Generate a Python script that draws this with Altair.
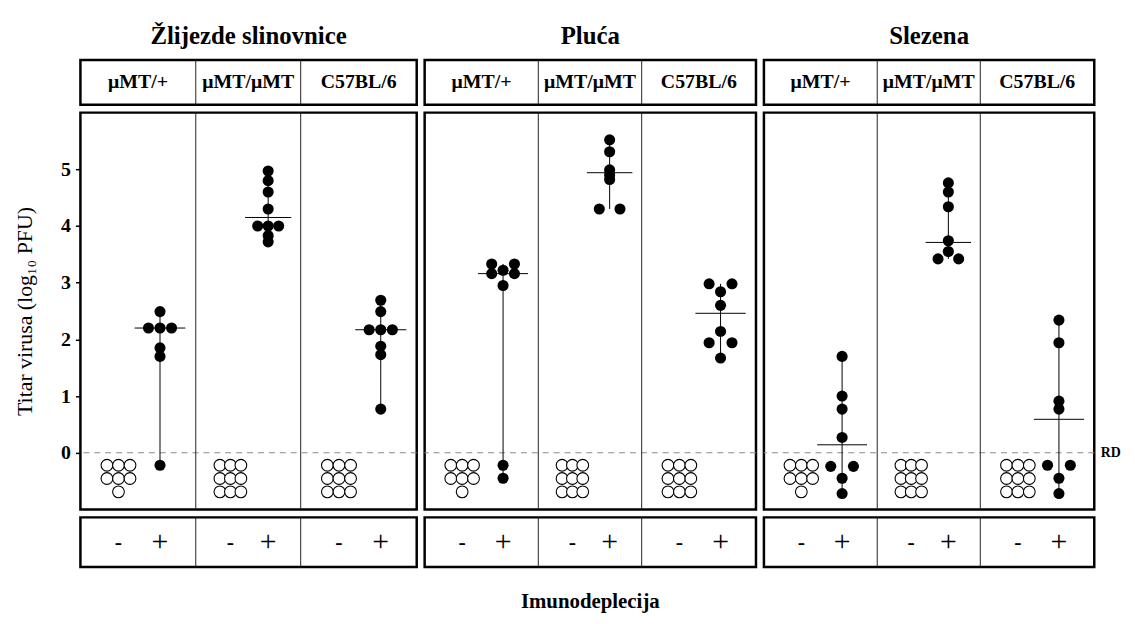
import altair as alt
import pandas as pd
from collections import Counter

# ---------------- data ----------------
panels = ["Žlijezde slinovnice", "Pluća", "Slezena"]
strains = ["μMT/+", "μMT/μMT", "C57BL/6"]
depletion_labels = ["-", "+"]
y_ticks = [0, 1, 2, 3, 4, 5]
rd_value = [0]

# filled circles: immunodepleted (+) mice, virus titre log10 PFU
salivary_mt_het = [2.49, 2.20, 2.20, 2.20, 1.85, 1.70, -0.22]
salivary_mt_mt = [4.97, 4.80, 4.60, 4.30, 4.00, 4.00, 4.00, 3.83, 3.72]
salivary_b6 = [2.69, 2.49, 2.17, 2.17, 2.17, 1.88, 1.73, 0.77]
lung_mt_het = [3.33, 3.33, 3.22, 3.16, 3.16, 2.95, -0.22, -0.45]
lung_mt_mt = [5.52, 5.31, 4.99, 4.90, 4.82, 4.30, 4.30]
lung_b6 = [2.98, 2.98, 2.84, 2.60, 2.14, 1.94, 1.94, 1.67]
spleen_mt_het = [1.70, 1.00, 0.77, 0.27, -0.24, -0.24, -0.45, -0.72]
spleen_mt_mt = [4.76, 4.60, 4.34, 3.74, 3.55, 3.42, 3.42]
spleen_b6 = [2.34, 1.94, 0.91, 0.77, -0.22, -0.22, -0.45, -0.72]

# horizontal bars (median) per strain
median_salivary = [2.20, 4.15, 2.17]
median_lung = [3.16, 4.94, 2.46]
median_spleen = [0.14, 3.71, 0.59]

# open circles: non-depleted (-) mice below the detection limit (RD)
below_rd_salivary = [7, 9, 9]
below_rd_lung = [7, 9, 9]
below_rd_spleen = [7, 9, 9]

filled_values = [
    [salivary_mt_het, salivary_mt_mt, salivary_b6],
    [lung_mt_het, lung_mt_mt, lung_b6],
    [spleen_mt_het, spleen_mt_mt, spleen_b6],
]
medians = [median_salivary, median_lung, median_spleen]
below_rd = [below_rd_salivary, below_rd_lung, below_rd_spleen]

# ---------------- layout / style ----------------
SERIF = "Liberation Serif"
PANEL_W = [339, 334, 333]
HEAD_H, MAIN_H, FOOT_H = 45, 400, 50
GROUP_EDGES = [0, 0.343, 0.655, 1.0]
MINUS_POS, PLUS_POS = 0.33, 0.69
DOT_STEP = 0.10
ROW_TOP, ROW_STEP = -0.22, 0.235
MED_HALF = 0.22


def sym_offsets(values):
    counts = Counter(values)
    seen = Counter()
    out = []
    for v in values:
        n, k = counts[v], seen[v]
        seen[v] += 1
        out.append(k - (n - 1) / 2 if n != 2 else [-1, 1][k])
    return out


filled_rows, open_rows, med_rows = [], [], []
for p in range(3):
    for g in range(3):
        vals = filled_values[p][g]
        for v, o in zip(vals, sym_offsets(vals)):
            filled_rows.append(dict(p=p, g=g, value=v,
                                    x=g + PLUS_POS + o * DOT_STEP,
                                    xc=g + PLUS_POS))
        n = below_rd[p][g]
        for i in range(n):
            r, c = divmod(i, 3)
            rn = min(3, n - r * 3)
            open_rows.append(dict(p=p, g=g,
                                  x=g + MINUS_POS + (c - (rn - 1) / 2) * DOT_STEP,
                                  y=ROW_TOP - r * ROW_STEP))
        m = medians[p][g]
        med_rows.append(dict(p=p, g=g, median=m,
                             x0=g + PLUS_POS - MED_HALF, x1=g + PLUS_POS + MED_HALF))

filled_df = pd.DataFrame(filled_rows)
open_df = pd.DataFrame(open_rows)
med_df = pd.DataFrame(med_rows)
div_df = pd.DataFrame({"x": [1, 2]})
rd_df = pd.DataFrame({"y": rd_value})
strain_df = pd.DataFrame({"strain": strains, "xmid": [g + 0.5 for g in range(3)]})
dep_df = pd.DataFrame({
    "label": depletion_labels * 3,
    "x": [g + pos for g in range(3) for pos in (MINUS_POS, PLUS_POS)],
})

ysc = alt.Scale(domain=[-1, 6], nice=False, zero=False)


def xscale(p):
    w = PANEL_W[p]
    return alt.Scale(domain=[0, 1, 2, 3], range=[e * w for e in GROUP_EDGES])


def yaxis(p):
    if p == 0:
        return alt.Axis(values=y_ticks, title="Titar virusa (log₁₀ PFU)", grid=False,
                        domain=False, tickSize=5, tickWidth=1.5, tickColor="black",
                        labelFont=SERIF, labelFontSize=20, labelFontWeight="bold",
                        labelColor="black", labelPadding=5,
                        titleFont=SERIF, titleFontSize=22, titleFontWeight="normal",
                        titleColor="black", titlePadding=24)
    if p == 2:
        return alt.Axis(orient="right", values=rd_value, labelExpr="'RD'", ticks=False,
                        domain=False, grid=False, title=None, labelFont=SERIF,
                        labelFontSize=14, labelFontWeight="bold", labelColor="black",
                        labelPadding=6)
    return None


def main_chart(p):
    X = lambda f: alt.X(f, scale=xscale(p), axis=None)
    ax = yaxis(p)
    Y = (lambda f: alt.Y(f, scale=ysc, axis=ax)) if ax is not None else \
        (lambda f: alt.Y(f, scale=ysc, axis=None))
    fd = filled_df[filled_df.p == p]
    od = open_df[open_df.p == p]
    md = med_df[med_df.p == p]
    rd = alt.Chart(rd_df).mark_rule(color="#8a8a8a", strokeDash=[6, 5], strokeWidth=1.2).encode(y=Y("y:Q"))
    div = alt.Chart(div_df).mark_rule(color="#222222", strokeWidth=1).encode(x=X("x:Q"))
    rng = alt.Chart(fd).mark_rule(color="black", strokeWidth=1).encode(
        x=X("xc:Q"), y=Y("min(value):Q"), y2=alt.Y2("max(value)"))
    med = alt.Chart(md).mark_rule(color="black", strokeWidth=1).encode(
        x=X("x0:Q"), x2=alt.X2("x1"), y=Y("median:Q"))
    opn = alt.Chart(od).mark_point(shape="circle", size=140, filled=True, fill="white",
                                   stroke="black", strokeWidth=1.1, opacity=1).encode(
        x=X("x:Q"), y=Y("y:Q"))
    fil = alt.Chart(fd).mark_circle(size=125, color="black", opacity=1).encode(
        x=X("x:Q"), y=Y("value:Q"))
    return alt.layer(rd, div, rng, med, opn, fil).properties(width=PANEL_W[p], height=MAIN_H)


def head_chart(p):
    X = lambda f: alt.X(f, scale=xscale(p), axis=None)
    div = alt.Chart(div_df).mark_rule(color="#222222", strokeWidth=1).encode(x=X("x:Q"))
    txt = alt.Chart(strain_df).mark_text(font=SERIF, fontSize=20, fontWeight="bold",
                                         color="black").encode(x=X("xmid:Q"), text="strain:N")
    return alt.layer(div, txt).properties(
        width=PANEL_W[p], height=HEAD_H,
        title=alt.TitleParams(panels[p], font=SERIF, fontSize=25, fontWeight="bold",
                              color="black", offset=11, anchor="middle"))


def foot_chart(p):
    X = lambda f: alt.X(f, scale=xscale(p), axis=None)
    div = alt.Chart(div_df).mark_rule(color="#222222", strokeWidth=1).encode(x=X("x:Q"))
    minus = alt.Chart(dep_df).transform_filter(alt.datum.label == "-").mark_text(
        font=SERIF, fontSize=22, fontWeight="bold", color="black").encode(x=X("x:Q"), text="label:N")
    plus = alt.Chart(dep_df).transform_filter(alt.datum.label == "+").mark_text(
        font=SERIF, fontSize=30, color="black").encode(x=X("x:Q"), text="label:N")
    props = dict(width=PANEL_W[p], height=FOOT_H)
    if p == 1:
        props["title"] = alt.TitleParams("Imunodeplecija", orient="bottom", font=SERIF,
                                         fontSize=21, fontWeight="bold", color="black",
                                         offset=24, anchor="middle")
    return alt.layer(div, minus, plus).properties(**props)


cells = [head_chart(p) for p in range(3)] + [main_chart(p) for p in range(3)] + \
        [foot_chart(p) for p in range(3)]

chart = alt.concat(*cells, columns=3, spacing={"row": 8, "column": 8}, bounds="flush").properties(
    padding={"left": 4, "top": 12, "right": 5, "bottom": 5},
    background="white",
).configure_view(stroke="black", strokeWidth=2.5)

chart.save("out.html", embed_options={"renderer": "svg", "actions": False})
